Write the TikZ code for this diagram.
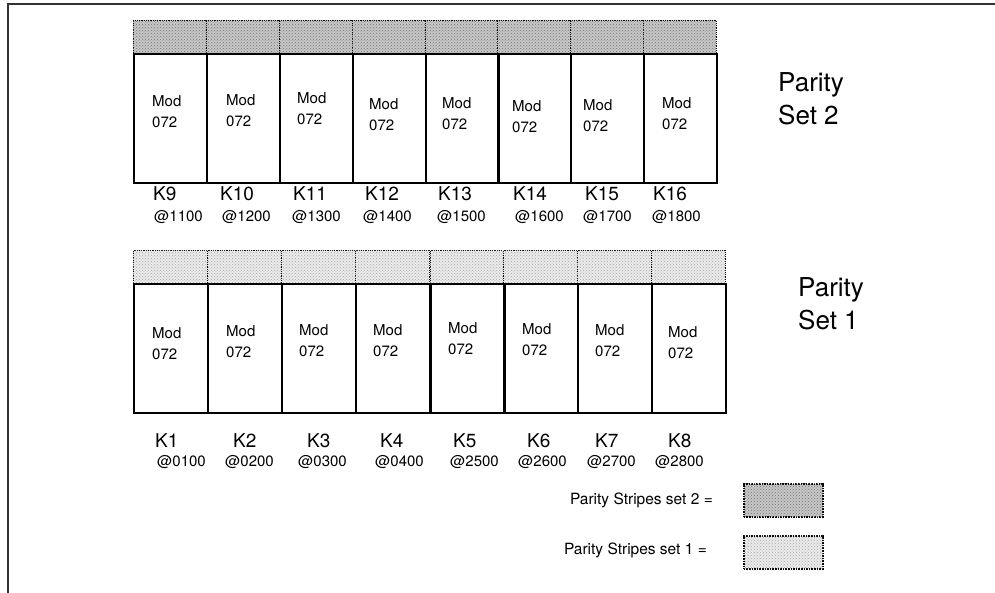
\documentclass[tikz,border=0pt]{standalone}
\usepackage{fontspec}
\setmainfont{TeX Gyre Heros}
\usetikzlibrary{positioning,patterns}

\begin{document}
\begin{tikzpicture}[
  x=1pt, y=-1pt,
  modbox/.style={draw, line width=1.8pt, minimum height=129pt, inner sep=0pt, anchor=north west},
  stripe/.style={draw, densely dotted, line width=0.8pt, minimum height=33pt, inner sep=0pt, anchor=north west},
  settwo/.style={stripe, fill=black!22, postaction={pattern=crosshatch dots, pattern color=black!55}},
  setone/.style={stripe, fill=black!8, postaction={pattern=crosshatch dots, pattern color=black!35}},
  modtext/.style={inner sep=0pt, anchor=north west, align=left, font=\fontsize{15}{21}\selectfont},
  kname/.style={inner sep=0pt, anchor=west, font=\fontsize{19}{21}\selectfont},
  kaddr/.style={inner sep=0pt, anchor=west, font=\fontsize{15}{17}\selectfont},
  setname/.style={inner sep=0pt, anchor=north west, align=left, font=\fontsize{26}{33}\selectfont},
  legtext/.style={inner sep=0pt, anchor=east, font=\fontsize{15.5}{18}\selectfont},
  legbox/.style={draw, densely dotted, line width=1.6pt, minimum width=79pt, minimum height=34pt, inner sep=0pt, anchor=north west}
]
\useasboundingbox (0,0) rectangle (995,593);
\draw[line width=1.2pt, black!80] (8,593) -- (8,4) -- (995,4);

% parity set 2 (upper row)
\foreach \k/\x/\tx/\ty/\kx/\ax/\addr in {9/133/152/95/153/154/1100, 10/206/226/94/220/222/1200,
    11/279/297/92/293/292/1300, 12/352/369/98/365/363/1400, 13/425/442/97/438/437/1500,
    14/497/512/100/513/515/1600, 15/570/583/99/585/583/1700, 16/643/662/97/653/652/1800}{
  \node[settwo, minimum width=73pt] (s\k) at (\x,20) {};
  \node[modbox, minimum width=73pt] (m\k) at (\x,53) {};
  \node[modtext] (t\k) at (\tx,\ty) {Mod\\072};
  \node[kname] (k\k) at (\kx,194) {K\k};
  \node[kaddr] (a\k) at (\ax,217) {@\addr};
}
\node[setname] (ps2) at (778,72) {Parity\\Set 2};

% parity set 1 (lower row)
\foreach \k/\x/\tx/\ty/\kx/\ax/\addr in {1/133/152/327/155/157/0100, 2/207/226/325/233/225/0200,
    3/281/299/324/307/298/0300, 4/355/373/324/380/375/0400, 5/430/448/322/453/450/2500,
    6/503/522/323/527/518/2600, 7/577/595/324/595/587/2700, 8/651/668/326/668/655/2800}{
  \node[setone, minimum width=74pt] (s\k) at (\x,250) {};
  \node[modbox, minimum width=74pt] (m\k) at (\x,283) {};
  \node[modtext] (t\k) at (\tx,\ty) {Mod\\072};
  \node[kname] (k\k) at (\kx,441) {K\k};
  \node[kaddr] (a\k) at (\ax,462) {@\addr};
}
\node[setname] (ps1) at (798,277) {Parity\\Set 1};

% legend
\node[legtext] (l2) at (713,500) {Parity Stripes set 2 =};
\node[legbox, settwo, line width=1.6pt] (b2) at (743,483) {};
\node[legtext] (l1) at (707,550) {Parity Stripes set 1 =};
\node[legbox, setone, line width=1.6pt] (b1) at (743,535) {};
\end{tikzpicture}
\end{document}
